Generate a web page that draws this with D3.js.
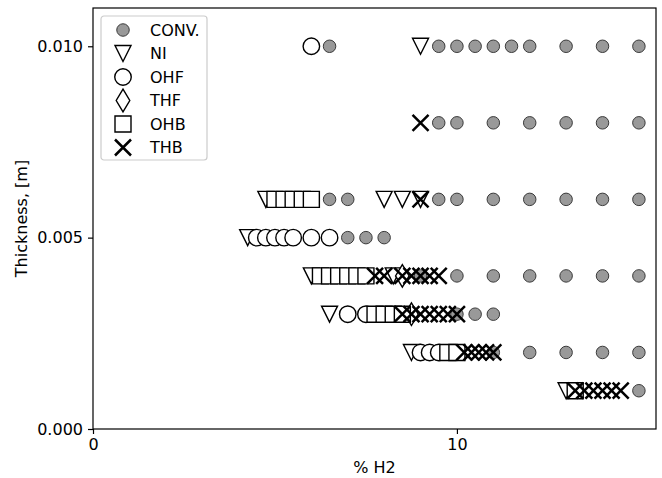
<!DOCTYPE html>
<html>
<head>
<meta charset="utf-8">
<script src="https://cdn.jsdelivr.net/npm/d3@7"></script>
<style>
  html, body { margin: 0; padding: 0; background: #fff; }
  svg { display: block; font-family: "DejaVu Sans", sans-serif; }
</style>
</head>
<body>
<svg id="chart" width="662" height="478"></svg>
<script>
// Series: thickness [m] vs % H2, one array pair per configuration
const seriesNames = ["CONV.", "NI", "OHF", "THF", "OHB", "THB"];

const convH2 = [6.5, 9.5, 10, 10.5, 11, 11.5, 12, 13, 14, 15,
                9.5, 10, 11, 12, 13, 14, 15,
                6.5, 7.0, 9.5, 10, 11, 12, 13, 14, 15,
                7.0, 7.5, 8.0,
                9.0, 10, 11, 12, 13, 14, 15,
                10, 10.5, 11,
                11, 12, 13, 14, 15,
                15];
const convT  = [0.010, 0.010, 0.010, 0.010, 0.010, 0.010, 0.010, 0.010, 0.010, 0.010,
                0.008, 0.008, 0.008, 0.008, 0.008, 0.008, 0.008,
                0.006, 0.006, 0.006, 0.006, 0.006, 0.006, 0.006, 0.006, 0.006,
                0.005, 0.005, 0.005,
                0.004, 0.004, 0.004, 0.004, 0.004, 0.004, 0.004,
                0.003, 0.003, 0.003,
                0.002, 0.002, 0.002, 0.002, 0.002,
                0.001];

const niH2 = [9.0, 4.75, 8.0, 8.5, 9.0, 4.25, 6.0, 8.25, 6.5, 8.75, 13.0];
const niT  = [0.010, 0.006, 0.006, 0.006, 0.006, 0.005, 0.004, 0.004, 0.003, 0.002, 0.001];

const ohfH2 = [6.0, 4.5, 4.75, 5.0, 5.25, 5.5, 6.0, 6.5, 7.0, 7.5, 9.0, 9.25, 9.5];
const ohfT  = [0.010, 0.005, 0.005, 0.005, 0.005, 0.005, 0.005, 0.005, 0.003, 0.003, 0.002, 0.002, 0.002];

const thfH2 = [8.5, 8.75];
const thfT  = [0.004, 0.003];

const ohbH2 = [5.0, 5.25, 5.5, 5.75, 6.0,
               6.25, 6.5, 6.75, 7.0, 7.25, 7.5,
               7.75, 8.0, 8.25, 8.5,
               9.75, 10.0,
               13.25];
const ohbT  = [0.006, 0.006, 0.006, 0.006, 0.006,
               0.004, 0.004, 0.004, 0.004, 0.004, 0.004,
               0.003, 0.003, 0.003, 0.003,
               0.002, 0.002,
               0.001];

const thbH2 = [9.0, 9.0,
               7.75, 8.0, 8.5, 8.75, 9.0, 9.25, 9.5,
               8.5, 8.75, 9.0, 9.25, 9.5, 9.75, 10.0,
               10.2, 10.4, 10.6, 10.8, 11.0,
               13.25, 13.5, 13.75, 14.0, 14.25, 14.5];
const thbT  = [0.008, 0.006,
               0.004, 0.004, 0.004, 0.004, 0.004, 0.004, 0.004,
               0.003, 0.003, 0.003, 0.003, 0.003, 0.003, 0.003,
               0.002, 0.002, 0.002, 0.002, 0.002,
               0.001, 0.001, 0.001, 0.001, 0.001, 0.001];

const xTicks = [0, 10];
const yTicks = [0.000, 0.005, 0.010];
const xLabel = "% H2";
const yLabel = "Thickness, [m]";

// ---- layout ----
const W = 662, H = 478;
const plot = { left: 93, right: 656, top: 8, bottom: 429 };
const FONT = "16px";

const x = d3.scaleLinear().domain([0, 15.47]).range([plot.left, plot.right]);
const y = d3.scaleLinear().domain([0, 0.011]).range([plot.bottom, plot.top]);

const svg = d3.select("#chart");

// ---- marker shapes as d3 symbol types (size = marker extent in px) ----
const symCircle = { draw(ctx, s) { const r = s / 2; ctx.moveTo(r, 0); ctx.arc(0, 0, r, 0, 2 * Math.PI); ctx.closePath(); } };
const symTriDown = { draw(ctx, s) { const h = s / 2; ctx.moveTo(-h, -h); ctx.lineTo(h, -h); ctx.lineTo(0, h); ctx.closePath(); } };
const symSquare = { draw(ctx, s) { const h = s / 2; ctx.rect(-h, -h, s, s); } };
const symThinDiamond = { draw(ctx, s) { const v = s * Math.SQRT1_2, w = v * 0.6; ctx.moveTo(0, -v); ctx.lineTo(w, 0); ctx.lineTo(0, v); ctx.lineTo(-w, 0); ctx.closePath(); } };
const symX = { draw(ctx, s) { const h = s / 2; ctx.moveTo(-h, -h); ctx.lineTo(h, h); ctx.moveTo(-h, h); ctx.lineTo(h, -h); } };

const MS = 16;
const styles = {
  "CONV.": { type: symCircle, size: 12.5, fill: "#999999", stroke: "#3a3a3a", sw: 1 },
  "NI":    { type: symTriDown, size: MS, fill: "#ffffff", stroke: "#000", sw: 1.4 },
  "OHF":   { type: symCircle, size: MS + 0.5, fill: "#ffffff", stroke: "#000", sw: 1.4 },
  "THF":   { type: symThinDiamond, size: MS, fill: "#ffffff", stroke: "#000", sw: 1.4 },
  "OHB":   { type: symSquare, size: MS, fill: "#ffffff", stroke: "#000", sw: 1.4 },
  "THB":   { type: symX, size: MS, fill: "none", stroke: "#000", sw: 2.5 }
};

const seriesData = [
  [convH2, convT], [niH2, niT], [ohfH2, ohfT], [thfH2, thfT], [ohbH2, ohbT], [thbH2, thbT]
];

function symbolPath(st) {
  return d3.symbol().type(st.type).size(st.size)();
}

// ---- points, drawn series by series so later series sit on top ----
const gPts = svg.append("g");
seriesNames.forEach((name, i) => {
  const st = styles[name];
  const [xs, ts] = seriesData[i];
  const pts = xs.map((v, k) => ({ h2: v, t: ts[k] }));
  gPts.append("g").selectAll("path").data(pts).join("path")
    .attr("d", symbolPath(st))
    .attr("transform", d => `translate(${x(d.h2)},${y(d.t)})`)
    .attr("fill", st.fill)
    .attr("stroke", st.stroke)
    .attr("stroke-width", st.sw)
    .attr("stroke-linejoin", "miter");
});

// ---- frame (spines) ----
svg.append("rect")
  .attr("x", plot.left).attr("y", plot.top)
  .attr("width", plot.right - plot.left).attr("height", plot.bottom - plot.top)
  .attr("fill", "none").attr("stroke", "#000").attr("stroke-width", 1.2);

// ---- axes ----
const xAxis = d3.axisBottom(x).tickValues(xTicks).tickFormat(d3.format("d")).tickSize(5).tickPadding(5);
const yAxis = d3.axisLeft(y).tickValues(yTicks).tickFormat(d3.format(".3f")).tickSize(5).tickPadding(5);

const gx = svg.append("g").attr("transform", `translate(0,${plot.bottom})`).call(xAxis);
const gy = svg.append("g").attr("transform", `translate(${plot.left},0)`).call(yAxis);
[gx, gy].forEach(g => {
  g.select(".domain").remove();
  g.selectAll(".tick line").attr("stroke", "#000").attr("stroke-width", 1.2);
  g.selectAll(".tick text").attr("fill", "#000").style("font-size", FONT).style("font-family", "DejaVu Sans");
});

svg.append("text")
  .attr("x", (plot.left + plot.right) / 2).attr("y", 473)
  .attr("text-anchor", "middle").style("font-size", FONT)
  .text(xLabel);

svg.append("text")
  .attr("transform", `translate(27,${(plot.top + plot.bottom) / 2}) rotate(-90)`)
  .attr("text-anchor", "middle").style("font-size", FONT)
  .text(yLabel);

// ---- legend ----
const lg = svg.append("g").attr("transform", "translate(101,16)");
lg.append("rect")
  .attr("width", 106).attr("height", 144).attr("rx", 3)
  .attr("fill", "#fff").attr("fill-opacity", 0.8)
  .attr("stroke", "#cccccc").attr("stroke-width", 1.2);
seriesNames.forEach((name, i) => {
  const st = styles[name];
  const cy = 14 + i * 23.5;
  lg.append("path")
    .attr("d", symbolPath(st))
    .attr("transform", `translate(22,${cy})`)
    .attr("fill", st.fill).attr("stroke", st.stroke).attr("stroke-width", st.sw);
  lg.append("text")
    .attr("x", 49).attr("y", cy).attr("dy", "0.36em")
    .style("font-size", FONT)
    .text(name);
});
</script>
</body>
</html>
